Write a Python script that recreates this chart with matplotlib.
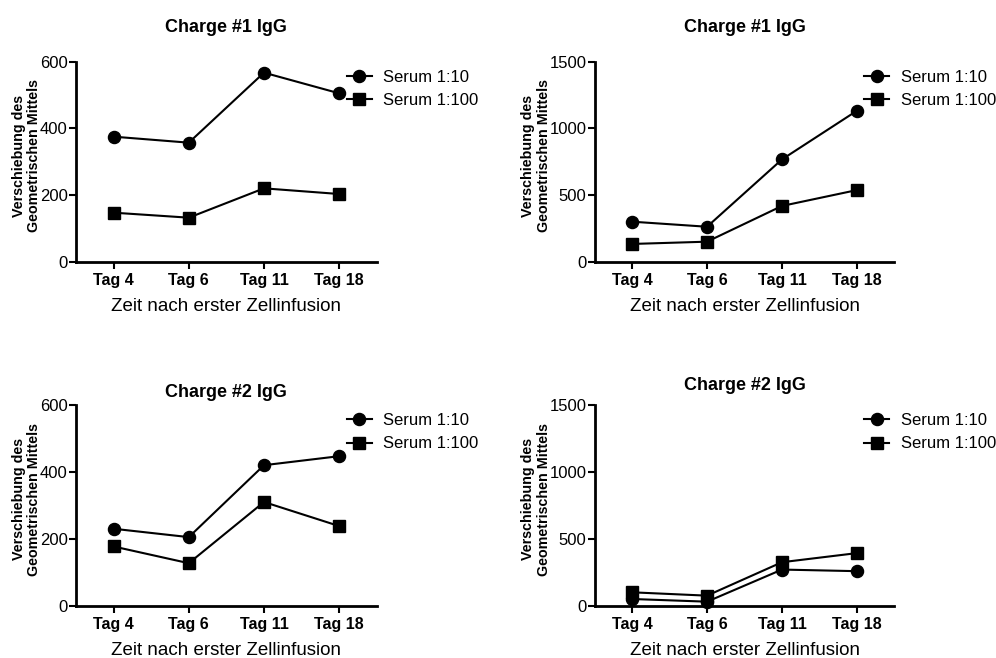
import numpy as np
import matplotlib
matplotlib.use("Agg")
import matplotlib.pyplot as plt

plt.rcParams['font.family'] = ['Liberation Sans', 'DejaVu Sans']

# data
tage = ['Tag 4', 'Tag 6', 'Tag 11', 'Tag 18']
serien = ['Serum 1:10', 'Serum 1:100']
titel = ['Charge #1 IgG', 'Charge #1 IgG', 'Charge #2 IgG', 'Charge #2 IgG']

c1_a_10 = [375, 357, 567, 505]
c1_a_100 = [147, 132, 220, 203]
c1_b_10 = [300, 262, 767, 1132]
c1_b_100 = [133, 150, 418, 537]
c2_a_10 = [230, 205, 420, 447]
c2_a_100 = [177, 127, 310, 238]
c2_b_10 = [50, 30, 270, 258]
c2_b_100 = [100, 75, 325, 393]

werte = [(c1_a_10, c1_a_100), (c1_b_10, c1_b_100),
         (c2_a_10, c2_a_100), (c2_b_10, c2_b_100)]
ymax = [600, 1500, 600, 1500]
yticks = [[0, 200, 400, 600], [0, 500, 1000, 1500],
          [0, 200, 400, 600], [0, 500, 1000, 1500]]

# axes rectangles in figure fractions
rects = [[0.0763, 0.6023, 0.302, 0.304],
         [0.597, 0.6023, 0.301, 0.304],
         [0.0763, 0.0795, 0.302, 0.305],
         [0.597, 0.0795, 0.301, 0.305]]
title_pad = [21, 21, 6, 10.5]
ylab_x = [-0.115, -0.146, -0.115, -0.146]

fig = plt.figure(figsize=(9.96, 6.58), dpi=100)
x = np.arange(len(tage))

for i in range(4):
    ax = fig.add_axes(rects[i])
    y10, y100 = werte[i]
    ax.plot(x, y10, color='black', lw=1.5, marker='o', ms=8.7,
            label=serien[0], clip_on=False, zorder=3)
    ax.plot(x, y100, color='black', lw=1.5, marker='s', ms=8.7,
            label=serien[1], clip_on=False, zorder=3)

    ax.set_xlim(-0.5, 3.5)
    ax.set_ylim(0, ymax[i])
    ax.set_yticks(yticks[i])
    ax.set_xticks(x)
    ax.set_xticklabels(tage, fontweight='bold', fontsize=11.5)
    ax.tick_params(axis='y', labelsize=12, width=1.5, length=5, pad=1)
    ax.tick_params(axis='x', width=1.5, length=5, pad=3)
    for s in ['top', 'right']:
        ax.spines[s].set_visible(False)
    for s in ['left', 'bottom']:
        ax.spines[s].set_linewidth(2)

    ax.set_title(titel[i], fontsize=13, fontweight='bold', pad=title_pad[i])
    ax.set_xlabel('Zeit nach erster Zellinfusion', fontsize=13.5, labelpad=7)
    ax.set_ylabel('Verschiebung des\nGeometrischen Mittels', fontsize=10.3,
                  fontweight='bold', linespacing=1.15)
    ax.yaxis.set_label_coords(ylab_x[i], 0.53)

    ax.legend(loc='upper left', bbox_to_anchor=(0.9, 0.96), frameon=False,
              fontsize=12, handlelength=1.5, handletextpad=0.7,
              labelspacing=0.5, borderpad=0, borderaxespad=0)

fig.savefig('out.png', dpi=100)
